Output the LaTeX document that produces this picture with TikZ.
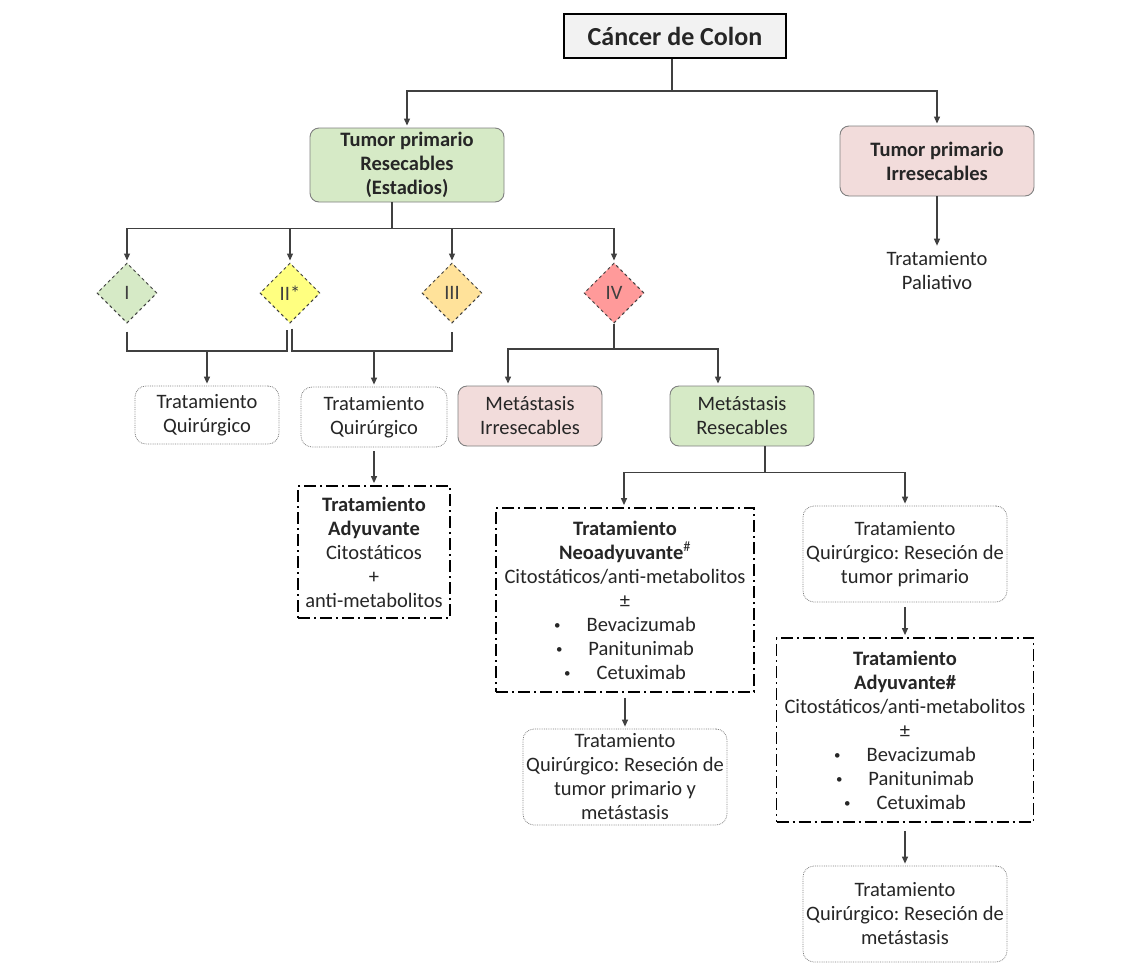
\documentclass[tikz,border=0pt]{standalone}
\usepackage{fontspec}
\setmainfont{Carlito}
\usetikzlibrary{shapes.geometric,arrows.meta}
\definecolor{lgreen}{HTML}{D6EAC6}
\definecolor{lpink}{HTML}{F2DCDB}
\definecolor{dyel}{HTML}{FFFF80}
\definecolor{dorg}{HTML}{FFE29A}
\definecolor{dred}{HTML}{FF9A9A}
\definecolor{lgray}{HTML}{F2F2F2}
\definecolor{linec}{HTML}{404040}
\definecolor{txt}{HTML}{262626}
\frenchspacing
\newcommand{\bul}{\raisebox{1.5pt}{\fontsize{13}{13}\selectfont\textbullet}\hspace{26pt}}
\tikzset{
  base/.style={align=center,inner sep=0pt,text=txt,font=\fontsize{20.5}{24}\selectfont},
  titlebox/.style={base,draw=black,line width=2pt,fill=lgray,minimum width=222pt,minimum height=44pt,font=\fontsize{26}{30}\selectfont\bfseries},
  colbox/.style={base,draw=gray,line width=0.9pt,rounded corners=9pt},
  greenbox/.style={colbox,fill=lgreen},
  pinkbox/.style={colbox,fill=lpink},
  treatbox/.style={base,draw=gray,line width=0.8pt,densely dotted,rounded corners=11pt},
  dashbox/.style={base,draw=black,line width=1.8pt,dash pattern=on 12pt off 4pt on 2pt off 4pt},
  stage/.style={base,diamond,aspect=1,draw=linec,line width=1pt,dashed,minimum size=60pt,text=linec},
  conn/.style={draw=linec,line width=1.2pt},
  arr/.style={conn,-{Triangle[width=6pt,length=7pt]},shorten >=2pt},
}
\begin{document}
\begin{tikzpicture}[x=1pt,y=-1pt]
\useasboundingbox (0,0) rectangle (1124,967);
\fill[white] (0,0) rectangle (1124,967);
% nodes
\node[titlebox] (cc) at (675,36) {Cáncer de Colon};
\node[greenbox,font=\fontsize{20.5}{24}\selectfont\bfseries,minimum width=194pt,minimum height=74pt] (tpr) at (407,165) {Tumor primario\\Resecables\\(Estadios)};
\node[pinkbox,font=\fontsize{20.5}{24}\selectfont\bfseries,minimum width=194pt,minimum height=70pt] (tpi) at (937,161) {Tumor primario\\Irresecables};
\node[base,inner sep=4pt] (pal) at (937,271) {Tratamiento\\Paliativo};
\node[stage,fill=lgreen] (d1) at (127,293) {I};
\node[stage,fill=dyel] (d2) at (290,293) {II*};
\node[stage,fill=dorg] (d3) at (452,293) {III};
\node[stage,fill=dred] (d4) at (614,293) {IV};
\node[treatbox,minimum width=144pt,minimum height=58pt] (q1) at (207,415) {Tratamiento\\Quirúrgico};
\node[treatbox,minimum width=146pt,minimum height=60pt] (q2) at (374,417) {Tratamiento\\Quirúrgico};
\node[dashbox,minimum width=152pt,minimum height=132pt] (adj1) at (374,552) {\textbf{Tratamiento}\\\textbf{Adyuvante}\\Citostáticos\\+\\anti-metabolitos};
\node[pinkbox,minimum width=144pt,minimum height=60pt] (mi) at (530,416) {Metástasis\\Irresecables};
\node[greenbox,minimum width=144pt,minimum height=60pt] (mr) at (742,416) {Metástasis\\Resecables};
\node[dashbox,minimum width=258pt,minimum height=184pt] (neo) at (625,600) {\textbf{Tratamiento}\\\textbf{Neoadyuvante}\textsuperscript{\#}\\Citostáticos/anti-metabolitos\\±\\\bul Bevacizumab\\\bul Panitunimab\\\bul Cetuximab};
\node[treatbox,minimum width=204pt,minimum height=96pt] (q3) at (625,777) {Tratamiento\\Quirúrgico: Reseción de\\tumor primario y\\metástasis};
\node[treatbox,minimum width=204pt,minimum height=96pt] (q4) at (905,554) {Tratamiento\\Quirúrgico: Reseción de\\tumor primario};
\node[dashbox,minimum width=257pt,minimum height=184pt] (adj2) at (905,730) {\textbf{Tratamiento}\\\textbf{Adyuvante\#}\\Citostáticos/anti-metabolitos\\±\\\bul Bevacizumab\\\bul Panitunimab\\\bul Cetuximab};
\node[treatbox,minimum width=204pt,minimum height=96pt] (q5) at (905,914) {Tratamiento\\Quirúrgico: Reseción de\\metástasis};
% connectors
\draw[arr] ([xshift=-3pt]cc.south) -- ++(0,32) -| (tpr.north);
\draw[arr] ([xshift=-3pt]cc.south) -- ++(0,32) -| (tpi.north);
\draw[arr] (tpi.south) -- (pal.north);
\foreach \d in {d1,d2,d3,d4}{
  \draw[arr] ([xshift=-15pt]tpr.south) -- ++(0,26) -| (\d.north);
}
\coordinate (b1) at (207,351);
\coordinate (b2) at (374,351);
\coordinate (b4) at (614,349);
\draw[conn] ([yshift=-8pt]d1.south) |- (b1) -| ([xshift=-3pt,yshift=-6pt]d2.south);
\draw[conn] ([xshift=2pt,yshift=-5pt]d2.south) |- (b2) -| ([yshift=-8pt]d3.south);
\draw[arr] (b1) -- (q1.north);
\draw[arr] (b2) -- (q2.north);
\draw[arr] ([yshift=-4pt]q2.south) -- (adj1.north);
\draw[arr] (d4.south) -- (b4) -| ([xshift=-22pt]mi.north);
\draw[arr] (d4.south) -- (b4) -| ([xshift=-24pt]mr.north);
\draw[arr] ([xshift=23pt]mr.south) -- ++(0,26) -| ([xshift=-1pt]neo.north);
\draw[arr] ([xshift=23pt]mr.south) -- ++(0,26) -| (q4.north);
\draw[arr] ([yshift=-5pt]neo.south) -- (q3.north);
\draw[arr] ([yshift=-5pt]q4.south) -- (adj2.north);
\draw[arr] ([yshift=-8pt]adj2.south) -- (q5.north);
\end{tikzpicture}
\end{document}
